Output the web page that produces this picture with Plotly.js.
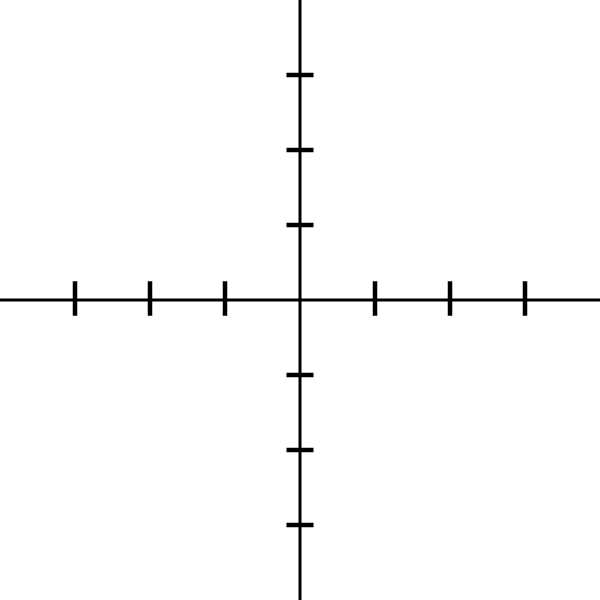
<!DOCTYPE html>
<html>
<head>
<meta charset="utf-8">
<script src="https://cdn.plot.ly/plotly-3.0.1.min.js"></script>
<style>html,body{margin:0;padding:0;background:#fff;}#chart{width:600px;height:600px;}</style>
</head>
<body>
<div id="chart"></div>
<script>
const xTickValues = [-3, -2, -1, 1, 2, 3];
const yTickValues = [-3, -2, -1, 1, 2, 3];
const axisRange = [-4, 4];

const xTickUp = 0.25, xTickDown = 0.21;
const yTickHalf = 0.18;

const xs = [], ys = [];
xTickValues.forEach(v => { xs.push(v, v, null); ys.push(xTickUp, -xTickDown, null); });
const xs2 = [], ys2 = [];
yTickValues.forEach(v => { xs2.push(-yTickHalf, yTickHalf, null); ys2.push(v, v, null); });

const traces = [
  {x: [axisRange[0], axisRange[1]], y: [0, 0], mode: 'lines', line: {color: '#000', width: 3}, hoverinfo: 'skip'},
  {x: [0, 0], y: [axisRange[0], axisRange[1]], mode: 'lines', line: {color: '#000', width: 3}, hoverinfo: 'skip'},
  {x: xs, y: ys, mode: 'lines', line: {color: '#000', width: 4.5}, hoverinfo: 'skip', connectgaps: false},
  {x: xs2, y: ys2, mode: 'lines', line: {color: '#000', width: 4.5}, hoverinfo: 'skip', connectgaps: false}
];

const layout = {
  width: 600, height: 600,
  margin: {l: 0, r: 0, t: 0, b: 0, pad: 0},
  paper_bgcolor: '#fff', plot_bgcolor: '#fff',
  showlegend: false,
  xaxis: {range: axisRange, showgrid: false, zeroline: false, showticklabels: false, ticks: '', showline: false, fixedrange: true},
  yaxis: {range: axisRange, showgrid: false, zeroline: false, showticklabels: false, ticks: '', showline: false, fixedrange: true}
};

Plotly.newPlot('chart', traces, layout, {displayModeBar: false, staticPlot: true});
</script>
</body>
</html>
